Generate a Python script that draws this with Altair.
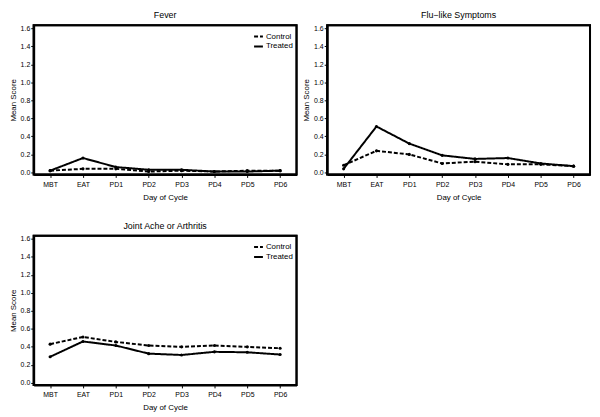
import altair as alt
import pandas as pd

days = ["MBT", "EAT", "PD1", "PD2", "PD3", "PD4", "PD5", "PD6"]
groups = ["Control", "Treated"]

fever_control = [0.02, 0.04, 0.04, 0.01, 0.02, 0.01, 0.02, 0.02]
fever_treated = [0.02, 0.16, 0.06, 0.03, 0.03, 0.01, 0.01, 0.02]

flu_control = [0.08, 0.24, 0.20, 0.10, 0.12, 0.09, 0.09, 0.07]
flu_treated = [0.04, 0.51, 0.32, 0.19, 0.15, 0.16, 0.10, 0.07]

joint_control = [0.43, 0.51, 0.455, 0.415, 0.40, 0.415, 0.40, 0.385]
joint_treated = [0.29, 0.46, 0.415, 0.325, 0.31, 0.345, 0.34, 0.315]

y_ticks = [0.0, 0.2, 0.4, 0.6, 0.8, 1.0, 1.2, 1.4, 1.6]

FONT = "Liberation Sans"
W, H = 266, 151


def make_df(control, treated):
    rows = []
    for g, vals in zip(groups, [control, treated]):
        for d, v in zip(days, vals):
            rows.append({"day": d, "group": g, "value": v})
    return pd.DataFrame(rows)


def panel(title, control, treated):
    df = make_df(control, treated)
    x = alt.X("day:N", sort=days, title="Day of Cycle",
              scale=alt.Scale(type="point", padding=0.5, domain=days),
              axis=alt.Axis(labelAngle=0, labelFontSize=7, titleFontSize=8,
                            titleFontWeight="normal", labelColor="black",
                            titleColor="black", tickColor="black", tickSize=3,
                            domain=True, domainColor="black", domainWidth=2,
                            labelPadding=3, titlePadding=6,
                            labelFont=FONT, titleFont=FONT))
    y = alt.Y("value:Q", title="Mean Score",
              scale=alt.Scale(domain=[-0.022, 1.633], nice=False, zero=False),
              axis=alt.Axis(values=y_ticks, format=".1f", labelFontSize=7,
                            titleFontSize=8, titleFontWeight="normal",
                            labelColor="black", titleColor="black",
                            tickColor="black", tickSize=3,
                            domain=True, domainColor="black", domainWidth=2,
                            grid=False, labelPadding=1, titlePadding=3,
                            labelFont=FONT, titleFont=FONT))
    frame = alt.Chart(pd.DataFrame({"k": [0]})).mark_rect(
        filled=False, color="black", strokeWidth=2
    ).encode(x=alt.value(0), x2=alt.value(W), y=alt.value(0), y2=alt.value(H))
    lines = alt.Chart(df).mark_line(color="black", strokeWidth=2).encode(
        x=x, y=y,
        strokeDash=alt.StrokeDash(
            "group:N",
            scale=alt.Scale(domain=groups, range=[[4, 2], [1, 0]]),
            legend=alt.Legend(title=None, orient="none",
                              legendX=222, legendY=6,
                              symbolType="stroke", symbolStrokeColor="black",
                              symbolStrokeWidth=2, symbolSize=80,
                              labelFontSize=8, labelFont=FONT,
                              labelColor="black", rowPadding=0,
                              symbolOffset=0, labelOffset=2,
                              padding=0)),
    )
    pts = alt.Chart(df).mark_point(filled=True, color="black", size=10,
                                   opacity=1).encode(x=x, y=y, detail="group:N")
    return alt.layer(lines, pts, frame).properties(
        width=W, height=H,
        title=alt.TitleParams(title, fontSize=9, fontWeight="normal",
                              font=FONT, color="black", offset=4),
    )


p1 = panel("Fever", fever_control, fever_treated)
p2 = panel("Flu\u2212like Symptoms", flu_control, flu_treated)
p3 = panel("Joint Ache or Arthritis", joint_control, joint_treated)

chart = alt.vconcat(
    alt.hconcat(p1, p2, spacing=3),
    alt.hconcat(p3, spacing=3),
    spacing=19,
).resolve_legend(strokeDash="independent").configure(
    background="white", padding=0,
    view=alt.ViewConfig(stroke="black", strokeWidth=2),
)

chart.save("out.html", embed_options={"renderer": "svg", "actions": False})
